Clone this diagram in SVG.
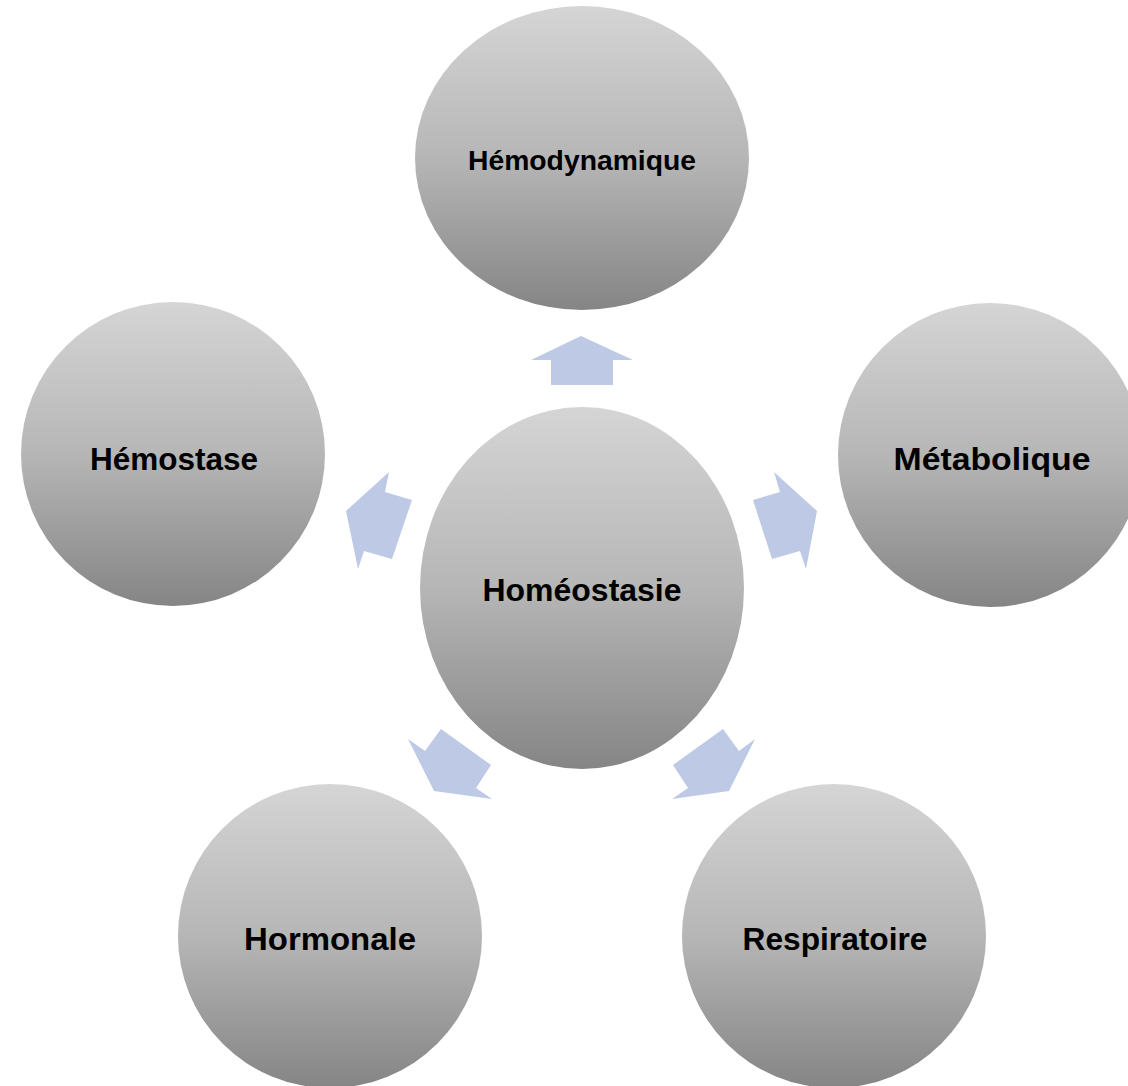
<svg xmlns="http://www.w3.org/2000/svg" width="1128" height="1086" viewBox="0 0 1128 1086">
<defs>
<linearGradient id="g" x1="0" y1="0" x2="0" y2="1">
<stop offset="0" stop-color="#d5d5d5"/>
<stop offset="0.5" stop-color="#b6b6b6"/>
<stop offset="1" stop-color="#858585"/>
</linearGradient>
</defs>
<style>
.n{fill:url(#g);stroke:none}
.t{font-family:"Liberation Sans",Arial,sans-serif;font-weight:bold;font-size:32px;fill:#000;text-anchor:middle}
.a{fill:#bdc9e5;stroke:none}
</style>
<rect width="1128" height="1086" fill="#fff"/>
<g id="connectors">
<polygon class="a" points="581,336 633,360 613,360 613,385 551,385 551,360 531,360"/>
<polygon class="a" points="389,472 346,511 358,569 364,551 392,559 412,500 385,492"/>
<polygon class="a" points="774,472 817,511 806,569 800,551 772,559 753,500 780,492"/>
<polygon class="a" points="408,739 434,791 492,799 476,788 491,765 441,729 425,751"/>
<polygon class="a" points="755,739 729,791 672,799 688,788 673,765 723,729 739,751"/>
</g>
<g id="node-hemodynamique">
<ellipse class="n" cx="582" cy="158" rx="167" ry="152"/>
<text class="t" x="582" y="170" style="font-size:28px" textLength="228" lengthAdjust="spacingAndGlyphs">Hémodynamique</text>
</g>
<g id="node-homeostasie">
<ellipse class="n" cx="582" cy="588" rx="162" ry="181"/>
<text class="t" x="582" y="601" textLength="199" lengthAdjust="spacingAndGlyphs">Homéostasie</text>
</g>
<g id="node-hemostase">
<circle class="n" cx="173" cy="454" r="152"/>
<text class="t" x="174" y="470" textLength="168" lengthAdjust="spacingAndGlyphs">Hémostase</text>
</g>
<g id="node-metabolique">
<circle class="n" cx="990" cy="455" r="152"/>
<text class="t" x="992" y="470" textLength="197" lengthAdjust="spacingAndGlyphs">Métabolique</text>
</g>
<g id="node-hormonale">
<circle class="n" cx="330" cy="936" r="152"/>
<text class="t" x="330" y="950" textLength="172" lengthAdjust="spacingAndGlyphs">Hormonale</text>
</g>
<g id="node-respiratoire">
<circle class="n" cx="834" cy="936" r="152"/>
<text class="t" x="835" y="950" textLength="185" lengthAdjust="spacingAndGlyphs">Respiratoire</text>
</g>
</svg>
